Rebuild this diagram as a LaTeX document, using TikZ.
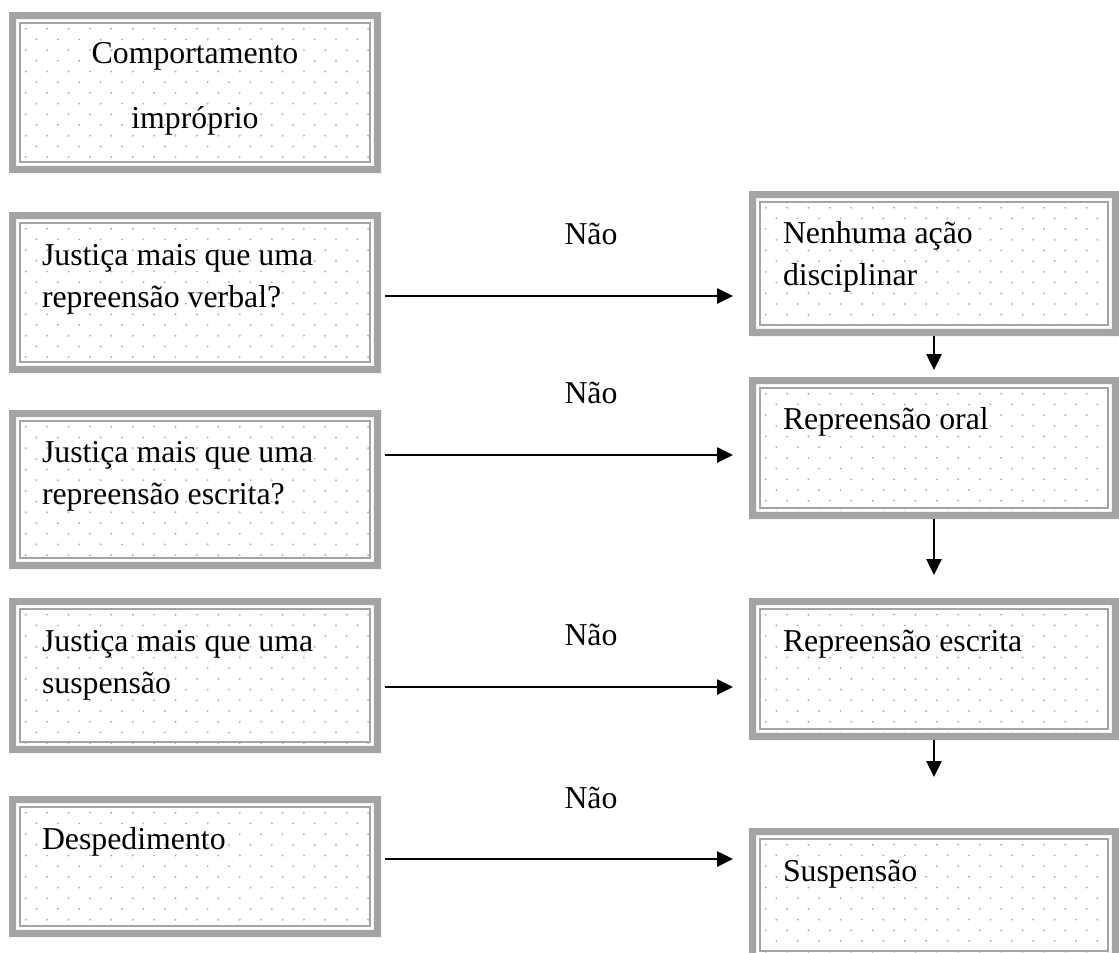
\documentclass[tikz,border=0pt]{standalone}
\usepackage{fontspec}
\setmainfont{Liberation Serif}
\usetikzlibrary{arrows.meta,calc}
\definecolor{bandgray}{HTML}{A4A4A4}
\definecolor{dotgray}{HTML}{B4B4B4}

\tikzset{
  panel/.style={rectangle, inner sep=0pt, outer sep=0pt, anchor=north west},
  txt/.style={inner sep=0pt, outer sep=0pt, font=\fontsize{31.8}{42}\selectfont},
  arr/.style={line width=2.6pt, -{Triangle[length=16pt,width=15pt]}},
}

% framed panel: #1 name, #2 left, #3 top, #4 right, #5 bottom (y measured downward)
\newcommand\panelbox[5]{%
  \pgfmathsetmacro\pw{#4-#2}\pgfmathsetmacro\ph{#5-#3}%
  \node[panel, minimum width=\pw pt, minimum height=\ph pt] (#1) at (#2,-#3) {};
  \fill[white] (#1.north west) rectangle (#1.south east);
  \begin{scope}
    \clip ([shift={(9,-9)}]#1.north west) rectangle ([shift={(-9,9)}]#1.south east);
    \foreach \r in {0,...,16}{\foreach \c in {0,...,18}{
      \fill[dotgray] ({#2+6+\c*21.4+mod(\r,2)*10.7},{-#3-6-\r*10.7}) circle (1.1);
    }}
  \end{scope}
  \fill[bandgray, even odd rule] (#1.north west) rectangle (#1.south east)
    ([shift={(7.2,-7.2)}]#1.north west) rectangle ([shift={(-7.2,7.2)}]#1.south east);
  \draw[bandgray, line width=2pt] ([shift={(10.8,-10.8)}]#1.north west)
    rectangle ([shift={(-10.8,10.8)}]#1.south east);
}

\begin{document}
\begin{tikzpicture}[x=1pt,y=1pt]
\useasboundingbox (0,0) rectangle (1119,-953);
\clip (0,0) rectangle (1119,-953);

% left column
\panelbox{b1}{9}{12}{381}{173}
\panelbox{b2}{9}{212}{381}{373}
\panelbox{b3}{9}{410}{381}{569}
\panelbox{b4}{9}{598}{381}{753}
\panelbox{b5}{9}{796}{381}{937}
% right column
\panelbox{r1}{749}{191}{1119}{336}
\panelbox{r2}{749}{377}{1119}{519}
\panelbox{r3}{749}{598}{1119}{740}
\panelbox{r4}{749}{828}{1119}{962}

% texts
\node[txt, anchor=base] (t1) at ([yshift=-51]b1.north)
  {\begin{tabular}[t]{@{}c@{}}Comportamento\\[23pt]impróprio\end{tabular}};
\node[txt, anchor=base west] (t2) at ([shift={(33,-53)}]b2.north west)
  {\begin{tabular}[t]{@{}l@{}}Justiça mais que uma\\repreensão verbal?\end{tabular}};
\node[txt, anchor=base west] (t3) at ([shift={(33,-52)}]b3.north west)
  {\begin{tabular}[t]{@{}l@{}}Justiça mais que uma\\repreensão escrita?\end{tabular}};
\node[txt, anchor=base west] (t4) at ([shift={(33,-53)}]b4.north west)
  {\begin{tabular}[t]{@{}l@{}}Justiça mais que uma\\suspensão\end{tabular}};
\node[txt, anchor=base west] (t5) at ([shift={(33,-53)}]b5.north west) {Despedimento};

\node[txt, anchor=base west] (s1) at ([shift={(34,-52)}]r1.north west)
  {\begin{tabular}[t]{@{}l@{}}Nenhuma ação\\disciplinar\end{tabular}};
\node[txt, anchor=base west] (s2) at ([shift={(34,-52)}]r2.north west) {Repreensão oral};
\node[txt, anchor=base west] (s3) at ([shift={(34,-53)}]r3.north west) {Repreensão escrita};
\node[txt, anchor=base west] (s4) at ([shift={(34,-53)}]r4.north west) {Suspensão};

% "Não" labels
\node[txt, anchor=base] (n1) at (591,-244) {Não};
\node[txt, anchor=base] (n2) at (591,-403) {Não};
\node[txt, anchor=base] (n3) at (591,-645) {Não};
\node[txt, anchor=base] (n4) at (591,-808) {Não};

% horizontal arrows
\draw[arr] ([shift={(4,-3.5)}]b2.east) -- ($(b2.east -| r1.west)+(-16,-3.5)$);
\draw[arr] ([shift={(4,34.5)}]b3.east) -- ($(b3.east -| r2.west)+(-16,34.5)$);
\draw[arr] ([shift={(4,-11.5)}]b4.east) -- ($(b4.east -| r3.west)+(-16,-11.5)$);
\draw[arr] ([shift={(4,7.5)}]b5.east) -- ($(b5.east -| r4.west)+(-16,7.5)$);

% vertical arrows
\draw[arr] (r1.south) -- ([yshift=7]r2.north);
\draw[arr] (r2.south) -- ([yshift=23]r3.north);
\draw[arr] (r3.south) -- ([yshift=51]r4.north);
\end{tikzpicture}
\end{document}
